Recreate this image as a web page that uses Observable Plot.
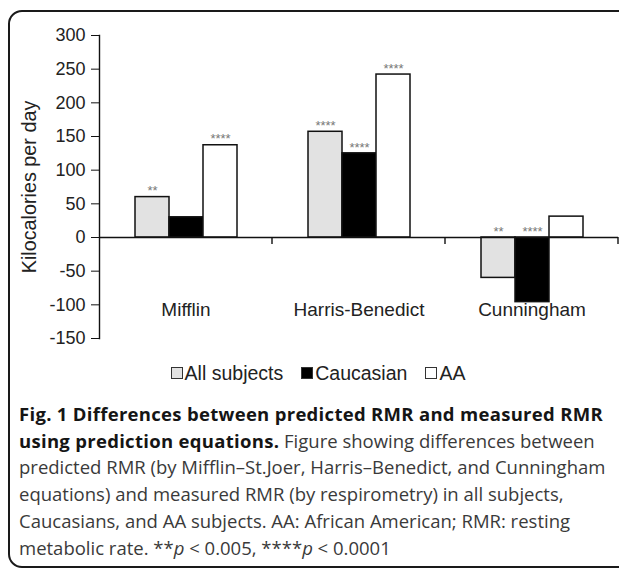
<!DOCTYPE html>
<html>
<head>
<meta charset="utf-8">
<script src="https://cdn.jsdelivr.net/npm/d3@7"></script>
<script src="https://cdn.jsdelivr.net/npm/@observablehq/plot@0.6"></script>
<style>
  html, body { margin: 0; padding: 0; background: #fff; }
  body { width: 619px; height: 571px; overflow: hidden; position: relative; font-family: "Liberation Sans", Arial, sans-serif; }
  #box { position: absolute; left: 8px; top: 10px; width: 680px; height: 558px; border: 2.5px solid #1a1a1a; border-radius: 14px; box-sizing: border-box; }
  #chart { position: absolute; left: 0; top: 0; }
  #legend { position: absolute; left: 0; top: 361px; width: 636px; display: flex; justify-content: center; align-items: center; font-size: 19.5px; color: #222; line-height: 24px; }
  #legend .item { display: flex; align-items: center; margin: 0 9px; }
  #legend .sw { width: 10px; height: 10px; border: 1px solid #333; margin-right: 2px; }
  #caption { position: absolute; left: 19px; top: 401px; font-family: "Open Sans", sans-serif; font-size: 18.5px; line-height: 26.7px; color: #3a3a3a; white-space: nowrap; }
  #caption b { color: #151515; letter-spacing: 0.3px; }
</style>
</head>
<body>
<div id="box"></div>
<div id="chart"></div>
<div id="legend"></div>
<div id="caption">
<b>Fig. 1 Differences between predicted RMR and measured RMR</b><br>
<b>using prediction equations.</b> Figure showing differences between<br>
predicted RMR (by Mifflin–St.Joer, Harris–Benedict, and Cunningham<br>
equations) and measured RMR (by respirometry) in all subjects,<br>
Caucasians, and AA subjects. AA: African American; RMR: resting<br>
metabolic rate. **<i>p</i> &lt; 0.005, ****<i>p</i> &lt; 0.0001
</div>
<script>
// ---- data ----
const categories = ["Mifflin", "Harris-Benedict", "Cunningham"];
const seriesNames = ["All subjects", "Caucasian", "AA"];
const allSubjects = [60, 157, -60];
const caucasian = [30, 125, -96];
const africanAmerican = [137, 242, 31];
const sigAll = ["**", "****", "**"];
const sigCaucasian = ["", "****", "****"];
const sigAA = ["****", "****", ""];
const seriesColors = ["#e2e2e2", "#000000", "#ffffff"];
const yTicks = [-150, -100, -50, 0, 50, 100, 150, 200, 250, 300];
const yLabel = "Kilocalories per day";

const seriesValues = [allSubjects, caucasian, africanAmerican];
const seriesSig = [sigAll, sigCaucasian, sigAA];
const rows = [];
categories.forEach((c, i) => {
  seriesNames.forEach((s, j) => {
    rows.push({category: c, series: s, value: seriesValues[j][i], sig: seriesSig[j][i]});
  });
});

// category separator ticks on the zero line (rendered in each facet)
function separatorTicks(index, scales, values, dims) {
  const g = d3.create("svg:g");
  const r = scales.x.range ? scales.x.range() : [dims.marginLeft, dims.width - dims.marginRight];
  const xr = Math.max(r[0], r[1]);
  const y0 = scales.y(0);
  g.append("line").attr("x1", xr).attr("x2", xr).attr("y1", y0).attr("y2", y0 + 7)
    .attr("stroke", "#111").attr("stroke-width", 1.4);
  return g.node();
}

const chart = Plot.plot({
  width: 619,
  height: 343,
  marginLeft: 98,
  marginRight: 1,
  marginTop: 35,
  marginBottom: 5,
  style: {background: "transparent", overflow: "visible", fontFamily: "'Liberation Sans', Arial, sans-serif", color: "#222"},
  fx: {domain: categories, padding: 0, axis: null},
  x: {domain: seriesNames, paddingInner: 0, paddingOuter: 1, axis: null},
  y: {domain: [-150, 300]},
  color: {domain: seriesNames, range: seriesColors},
  marks: [
    Plot.barY(rows, {fx: "category", x: "series", y: "value", fill: "series", stroke: "#111", strokeWidth: 1.5}),
    Plot.ruleY([0], {stroke: "#111", strokeWidth: 1.4}),
    separatorTicks,
    Plot.frame({anchor: "left", facetAnchor: "left", stroke: "#111", strokeWidth: 1.4}),
    Plot.axisY(yTicks, {anchor: "left", tickSize: 8, tickPadding: 6, fontSize: 18, stroke: "#111",
      tickFormat: d => String(d),
      label: yLabel, labelAnchor: "center", labelOffset: 78, labelArrow: "none"}),
    Plot.text(rows, {fx: "category", x: "series", y: d => Math.max(d.value, 0), text: "sig",
      dy: -6, fontSize: 13, fill: "#777"}),
    Plot.text(categories, {fx: d => d, text: d => d, frameAnchor: "bottom", dy: -23, fontSize: 19, fill: "#222"})
  ]
});
document.getElementById("chart").appendChild(chart);
const lab = chart.querySelector('[aria-label="y-axis label"]');
if (lab) lab.setAttribute("font-size", 19.8);

// legend
const legend = document.getElementById("legend");
seriesNames.forEach((s, j) => {
  const item = document.createElement("div");
  item.className = "item";
  const sw = document.createElement("span");
  sw.className = "sw";
  sw.style.background = seriesColors[j];
  const t = document.createElement("span");
  t.textContent = s;
  item.appendChild(sw);
  item.appendChild(t);
  legend.appendChild(item);
});
</script>
</body>
</html>
